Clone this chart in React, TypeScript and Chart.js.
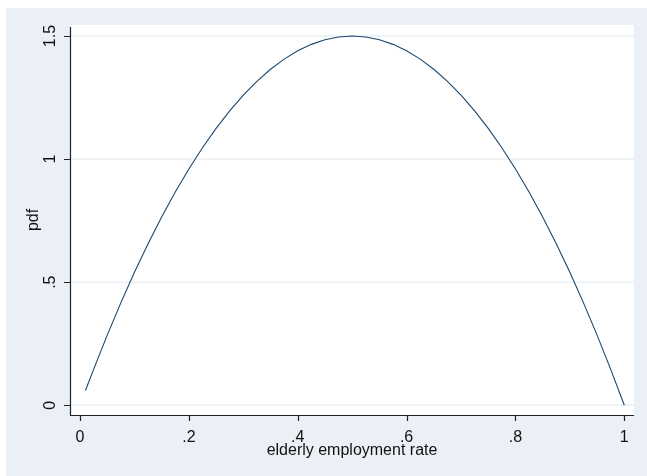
import React, { useEffect, useRef } from "react";
import { Chart, registerables } from "chart.js";

Chart.register(...registerables);

const rateValues = [
  0.01, 0.025, 0.05, 0.075, 0.1, 0.125, 0.15, 0.175, 0.2, 0.225, 0.25, 0.275, 0.3, 0.325, 0.35,
  0.375, 0.4, 0.425, 0.45, 0.475, 0.5, 0.525, 0.55, 0.575, 0.6, 0.625, 0.65, 0.675, 0.7, 0.725,
  0.75, 0.775, 0.8, 0.825, 0.85, 0.875, 0.9, 0.925, 0.95, 0.975, 1.0,
];
const pdfValues = [
  0.06, 0.146, 0.285, 0.416, 0.54, 0.656, 0.765, 0.866, 0.96, 1.046, 1.125, 1.196, 1.26, 1.316, 1.365,
  1.406, 1.44, 1.466, 1.485, 1.496, 1.5, 1.496, 1.485, 1.466, 1.44, 1.406, 1.365, 1.316, 1.26, 1.196,
  1.125, 1.046, 0.96, 0.866, 0.765, 0.656, 0.54, 0.416, 0.285, 0.146, 0.0,
];
const xTickValues = [0, 0.2, 0.4, 0.6, 0.8, 1];
const xTickLabels = ["0", ".2", ".4", ".6", ".8", "1"];
const yTickValues = [0, 0.5, 1, 1.5];
const yTickLabels = ["0", ".5", "1", "1.5"];
const xTitle = "elderly employment rate";
const yTitle = "pdf";

const BG = "rgb(234,240,245)";
const LINE = "#1a476f";
const FONT = '16px "Liberation Sans", Arial, sans-serif';

const stataPlugin = {
  id: "stata",
  beforeDraw(chart: any) {
    const { ctx, chartArea: a, width, height } = chart;
    ctx.save();
    ctx.fillStyle = "#ffffff";
    ctx.fillRect(0, 0, width, height);
    ctx.fillStyle = BG;
    ctx.fillRect(6, 8, width - 6, height - 8);
    ctx.fillStyle = "#ffffff";
    ctx.fillRect(a.left, a.top, a.right - a.left, a.bottom - a.top);
    const ys = chart.scales.y;
    ctx.strokeStyle = BG;
    ctx.lineWidth = 1.5;
    yTickValues.forEach((v) => {
      const py = ys.getPixelForValue(v);
      ctx.beginPath();
      ctx.moveTo(a.left, py);
      ctx.lineTo(a.right, py);
      ctx.stroke();
    });
    ctx.restore();
  },
  afterDraw(chart: any) {
    const { ctx, chartArea: a } = chart;
    const xs = chart.scales.x;
    const ys = chart.scales.y;
    ctx.save();
    ctx.strokeStyle = "#222";
    ctx.lineWidth = 1.2;
    ctx.beginPath();
    ctx.moveTo(a.left + 0.5, a.top + 2);
    ctx.lineTo(a.left + 0.5, a.bottom + 0.5);
    ctx.lineTo(a.right, a.bottom + 0.5);
    ctx.stroke();
    ctx.beginPath();
    xTickValues.forEach((v) => {
      const px = Math.round(xs.getPixelForValue(v)) + 0.5;
      ctx.moveTo(px, a.bottom);
      ctx.lineTo(px, a.bottom + 6);
    });
    yTickValues.forEach((v) => {
      const py = Math.round(ys.getPixelForValue(v)) + 0.5;
      ctx.moveTo(a.left, py);
      ctx.lineTo(a.left - 6, py);
    });
    ctx.stroke();
    ctx.fillStyle = "#111";
    ctx.font = FONT;
    ctx.textAlign = "center";
    ctx.textBaseline = "alphabetic";
    xTickValues.forEach((v, i) => {
      ctx.fillText(xTickLabels[i], xs.getPixelForValue(v), a.bottom + 27);
    });
    ctx.fillText(xTitle, (a.left + a.right) / 2, a.bottom + 40);
    yTickValues.forEach((v, i) => {
      ctx.save();
      ctx.translate(a.left - 15, ys.getPixelForValue(v));
      ctx.rotate(-Math.PI / 2);
      ctx.fillText(yTickLabels[i], 0, 0);
      ctx.restore();
    });
    ctx.save();
    ctx.translate(a.left - 32, (a.top + a.bottom) / 2);
    ctx.rotate(-Math.PI / 2);
    ctx.fillText(yTitle, 0, 0);
    ctx.restore();
    ctx.restore();
  },
};

export default function App() {
  const ref = useRef<HTMLCanvasElement | null>(null);
  useEffect(() => {
    document.body.style.margin = "0";
    const canvas = ref.current;
    if (!canvas) return;
    const chart = new Chart(canvas, {
      type: "line",
      data: {
        datasets: [
          {
            label: yTitle,
            data: rateValues.map((x, i) => ({ x, y: pdfValues[i] })),
            borderColor: LINE,
            borderWidth: 1.1,
            pointRadius: 0,
            tension: 0,
            fill: false,
          },
        ],
      },
      options: {
        responsive: false,
        animation: false,
        devicePixelRatio: 1,
        layout: { padding: { left: 70, top: 25, right: 13, bottom: 61 } },
        plugins: { legend: { display: false }, tooltip: { enabled: false } },
        scales: {
          x: { type: "linear", min: -0.0184, max: 1.0178, display: false },
          y: { type: "linear", min: -0.0394, max: 1.5447, display: false },
        },
      },
      plugins: [stataPlugin],
    });
    return () => chart.destroy();
  }, []);
  return (
    <div style={{ position: "absolute", left: 0, top: 0, width: 647, height: 476 }}>
      <canvas ref={ref} width={647} height={476} style={{ display: "block" }} />
    </div>
  );
}
